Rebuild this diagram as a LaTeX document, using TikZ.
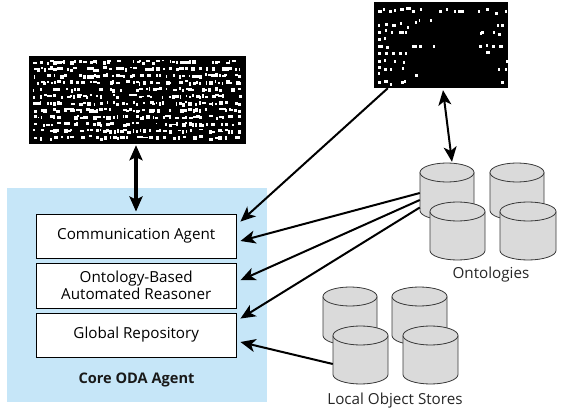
\documentclass[tikz,border=0pt]{standalone}
\usepackage{fontspec}
\setmainfont{Open Sans}
\usetikzlibrary{arrows.meta,calc}
\definecolor{panelblue}{HTML}{C6E6F8}
\definecolor{cylgray}{HTML}{DADADA}
\definecolor{cyledge}{HTML}{3A3A3A}
\tikzset{
  x=1pt,y=-1pt,
  agentbox/.style={draw=black,line width=0.9pt,fill=white,minimum width=200.5pt,align=center,inner sep=0pt,font=\fontsize{15.2}{17}\selectfont},
  caption/.style={inner sep=0pt,font=\fontsize{15.2}{18}\selectfont,text=black!85},
  slim/.style={line width=2pt,-{Stealth[length=15pt,width=13pt,inset=4pt]}},
  slimboth/.style={line width=2pt,{Stealth[length=15pt,width=13pt,inset=4pt]}-{Stealth[length=15pt,width=13pt,inset=4pt]}},
  fatboth/.style={line width=3.4pt,{Stealth[length=15pt,width=13pt,inset=3pt]}-{Stealth[length=15pt,width=13pt,inset=3pt]}},
  cylbody/.style={fill=cylgray,draw=cyledge,line width=0.8pt},
  noisepanel/.style={fill=black,inner sep=0pt}
}
% \cyl{name}{left}{right}{top}{bottom}
\newcommand{\cyl}[5]{%
  \pgfmathsetmacro{\cylrx}{(#3-#2)/2}
  \pgfmathsetmacro{\cylcx}{(#3+#2)/2}
  \node[inner sep=0pt,minimum width=#3pt-#2pt,minimum height=#5pt-#4pt] (#1) at ({\cylcx},{(#4+#5)/2}) {};
  \draw[cylbody] (#2,#4+9.5) -- (#2,#5-9.5) arc[start angle=180,end angle=360,x radius=\cylrx,y radius=-9.5] -- (#3,#4+9.5);
  \draw[cylbody] ({\cylcx},#4+9.5) ellipse[x radius=\cylrx,y radius=9.5];
}
\begin{document}
\begin{tikzpicture}
\useasboundingbox (0,0) rectangle (566,412);
\fill[panelblue] (7,188) rectangle (267,402);

% noisy black panels
\node[noisepanel,minimum width=217pt,minimum height=88pt] (sheetA) at (137.5,100) {};
\node[noisepanel,minimum width=134pt,minimum height=86pt] (sheetB) at (441,45) {};
\pgfmathsetseed{4711}
\foreach \row in {0,...,11}{
  \pgfmathsetmacro{\ry}{59.5+\row*6.9}
  \foreach \k in {0,...,62}{
    \pgfmathsetmacro{\wd}{1.2+rnd*3.2}
    \pgfmathsetmacro{\ho}{1.8+rnd*2.2}
    \pgfmathsetmacro{\jy}{\ry+rnd*2.2}
    \pgfmathsetmacro{\px}{33+\k*3.3+rnd*1.5}
    \pgfmathtruncatemacro{\keep}{rnd<0.68?1:0}
    \ifnum\keep=1
      \fill[white] (\px,\jy) rectangle ++(\wd,\ho);
    \fi
  }
}
\foreach \dx/\dy/\dw in {378/10/4,383/8/2,389/10/3,394/9/2,400/8/4,406/7/5,412/10/3,420/8/2,
  439/10/3,446/8/2,454/10/2,458/10/6,478/10/2,486/8/3,495/12/3,505/10/2,
  378/24/2,385/23/3,392/24/4,400/22/2,407/26/2,415/21/2,419/19/1,430/19/2,
  378/31/3,385/29/2,391/31/2,399/31/5,405/31/2,481/31/3,493/31/2,498/33/3,
  378/38/3,384/37/2,480/32/2,497/24/2,501/24/3,
  378/45/5,386/46/3,412/45/5,419/45/3,433/45/2,479/45/3,486/44/2,492/45/3,499/45/4,
  378/52/3,385/52/3,392/52/3,399/52/3,405/52/2,486/51/4,
  378/60/3,384/59/2,394/60/2,506/60/2,
  378/66/3,384/68/3,390/68/2,402/67/2,403/61/2,498/68/2,505/68/2,
  378/72/2,415/74/3,
  378/81/3,384/80/4,390/83/2,401/81/3,404/80/2,501/81/3}{
  \fill[white] (\dx,\dy) rectangle ++(\dw,3);
}

% Core agent
\node[agentbox,minimum height=44pt] (comm) at (136.25,236) {Communication Agent};
\node[agentbox,minimum height=44.5pt] (reasoner) at (136.25,285.75) {Ontology-Based\\Automated Reasoner};
\node[agentbox,minimum height=44pt] (repo) at (136.25,335) {Global Repository};
\node[inner sep=0pt,font=\bfseries\fontsize{14.6}{17}\selectfont,text=black!90] (core) at (136.5,380) {Core ODA Agent};

% Ontologies
\cyl{o1}{420}{474}{163}{220}
\cyl{o2}{490}{544}{163}{220}
\cyl{o3}{430}{485}{202}{260}
\cyl{o4}{500}{556}{202}{260}
\node[caption] (ontlabel) at (491,275) {Ontologies};

% Local stores
\cyl{l1}{323}{377}{287}{345}
\cyl{l2}{392}{447}{287}{345}
\cyl{l3}{333}{388}{326}{384}
\cyl{l4}{403}{458}{326}{384}
\node[caption] (loclabel) at (395,401) {Local Object Stores};

% connectors
\draw[fatboth] ($(sheetA.south)+(-1.5,1)$) -- ($(comm.north)+(-0.25,-2)$);
\draw[slimboth] ($(sheetB.south)+(2,2)$) -- ($(o1.north)+(5,-1)$);
\draw[slim] ($(sheetB.south west)+(14,0)$) -- ($(comm.north east)+(3.5,8)$);
\draw[slim] ($(o1.west)+(0,1.5)$) -- ($(comm.east)+(3.5,5)$);
\draw[slim] ($(o1.west)+(0,8.5)$) -- ($(reasoner.east)+(3.5,-5.5)$);
\draw[slim] ($(o1.west)+(0,16)$) -- ($(repo.north east)+(3.5,6)$);
\draw[slim] ($(l3.west)+(0,9)$) -- ($(repo.east)+(3.5,7)$);
\end{tikzpicture}
\end{document}
